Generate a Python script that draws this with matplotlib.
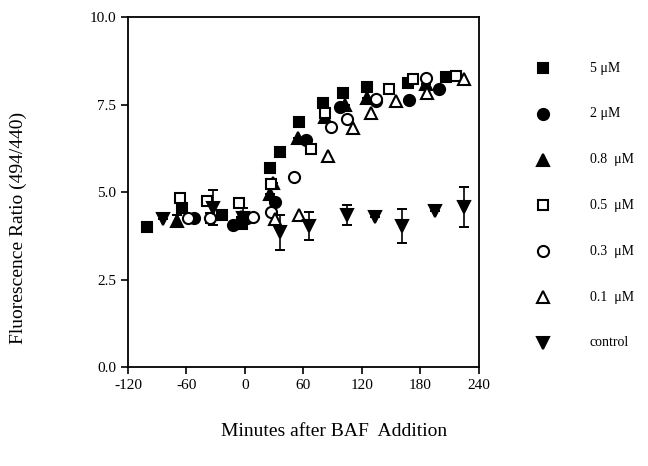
import matplotlib
matplotlib.use("Agg")
import matplotlib.pyplot as plt
from matplotlib.lines import Line2D

plt.rcParams['font.family'] = ['Liberation Serif', 'DejaVu Serif']

# ---- data (minutes after BAF addition, fluorescence ratio) ----
t_5uM = [-100, -65, -24, -3, 26, 36, 55, 80, 101, 125, 167, 206]
r_5uM = [4.0, 4.55, 4.35, 4.1, 5.7, 6.15, 7.0, 7.54, 7.83, 8.0, 8.12, 8.3]

t_2uM = [-52, -12, 2, 31, 63, 97, 134, 168, 199]
r_2uM = [4.25, 4.05, 4.25, 4.72, 6.5, 7.43, 7.6, 7.63, 7.94]

t_08uM = [-70, -4, 26, 29, 54, 82, 103, 125, 186]
r_08uM = [4.17, 4.3, 4.95, 5.25, 6.54, 7.14, 7.49, 7.7, 8.1]
e_08uM = [0.17, 0, 0, 0, 0, 0, 0, 0, 0]

t_05uM = [-67, -39, -6, 27, 68, 82, 148, 172, 216]
r_05uM = [4.83, 4.74, 4.7, 5.23, 6.23, 7.25, 7.94, 8.23, 8.31]

t_03uM = [-58, -36, 8, 27, 50, 88, 105, 134, 186]
r_03uM = [4.25, 4.26, 4.3, 4.43, 5.43, 6.86, 7.1, 7.65, 8.26]
e_03uM = [0, 0.15, 0, 0, 0, 0, 0, 0, 0]

t_01uM = [31, 55, 85, 111, 129, 155, 187, 225]
r_01uM = [4.23, 4.34, 6.03, 6.83, 7.26, 7.6, 7.83, 8.23]

t_ctrl = [-84, -33, -2, 36, 66, 105, 133, 161, 195, 225]
r_ctrl = [4.23, 4.55, 4.25, 3.85, 4.03, 4.35, 4.28, 4.03, 4.45, 4.57]
e_ctrl = [0, 0.5, 0.3, 0.5, 0.4, 0.28, 0, 0.48, 0, 0.58]

labels = ["5 \u03bcM", "2 \u03bcM", "0.8  \u03bcM", "0.5  \u03bcM", "0.3  \u03bcM", "0.1  \u03bcM", "control"]
x_ticks = [-120, -60, 0, 60, 120, 180, 240]
y_ticks = [0.0, 2.5, 5.0, 7.5, 10.0]

fig = plt.figure(figsize=(6.48, 4.66), dpi=100)
ax = fig.add_axes([0.1975, 0.2124, 0.5417, 0.7511])

styles = [
    dict(marker='s', mfc='black', ms=7.5),
    dict(marker='o', mfc='black', ms=8),
    dict(marker='^', mfc='black', ms=8),
    dict(marker='s', mfc='white', ms=7.5),
    dict(marker='o', mfc='white', ms=8),
    dict(marker='^', mfc='white', ms=8),
    dict(marker='v', mfc='black', ms=8.5),
]
series = [
    (t_5uM, r_5uM, None),
    (t_2uM, r_2uM, None),
    (t_08uM, r_08uM, e_08uM),
    (t_05uM, r_05uM, None),
    (t_03uM, r_03uM, e_03uM),
    (t_01uM, r_01uM, None),
    (t_ctrl, r_ctrl, e_ctrl),
]

for (t, r, e), st in zip(series, styles):
    if e is not None:
        ax.errorbar(t, r, yerr=e, fmt='none', ecolor='black', elinewidth=1.2,
                    capsize=3.5, capthick=1.4, zorder=2)
    ax.plot(t, r, linestyle='none', marker=st['marker'], ms=st['ms'],
            mfc=st['mfc'], mec='black', mew=1.5, zorder=3)

ax.set_xlim(-120, 240)
ax.set_ylim(0, 10)
ax.set_xticks(x_ticks)
ax.set_xticklabels([str(v) for v in x_ticks])
ax.set_yticks(y_ticks)
ax.set_yticklabels([f"{v:.1f}" for v in y_ticks])
ax.tick_params(direction='out', length=5, width=1.2, labelsize=11, color='black')
for s in ax.spines.values():
    s.set_linewidth(1.3)

fig.text(0.515, 0.073, "Minutes after BAF  Addition", ha='center', va='center', fontsize=14)
fig.text(0.028, 0.51, "Fluorescence Ratio (494/440)", ha='center', va='center',
         rotation=90, fontsize=14)

# legend drawn manually
for i, (lab, st) in enumerate(zip(labels, styles)):
    ypx = 68 + 45.8 * i
    yf = 1 - ypx / 466
    fig.add_artist(Line2D([543 / 648], [yf], transform=fig.transFigure, linestyle='none',
                          marker=st['marker'], ms=st['ms'], mfc=st['mfc'], mec='black', mew=1.5))
    fig.text(590 / 648, yf, lab, ha='left', va='center', fontsize=10)

fig.savefig("out.png", dpi=100)
